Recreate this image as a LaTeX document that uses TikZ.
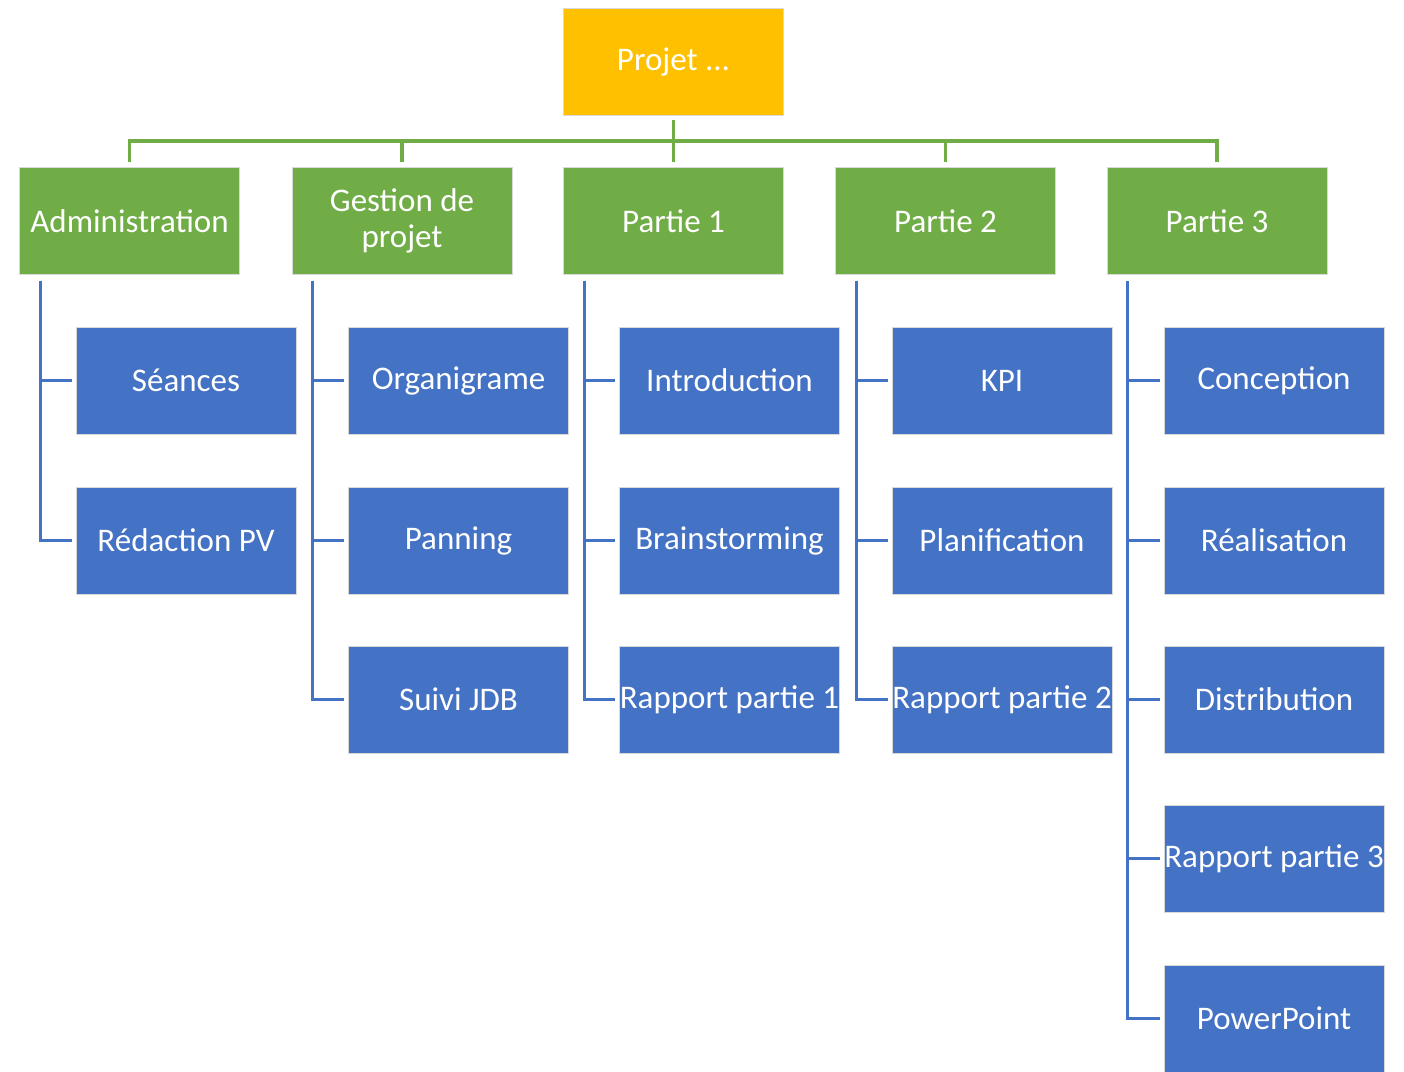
\documentclass[tikz,border=0pt]{standalone}
\usepackage{fontspec}
\setmainfont{Carlito}
\definecolor{cyel}{HTML}{FFC000}
\definecolor{cgrn}{HTML}{70AD47}
\definecolor{cblu}{HTML}{4472C4}
\begin{document}
\begin{tikzpicture}[x=1pt,y=-1pt,
  box/.style={minimum width=220pt,minimum height=107pt,inner sep=0pt,text=white,
    font=\fontsize{33}{36}\selectfont,align=center,draw=white!85!black,line width=0.6pt},
  topbox/.style={box,fill=cyel},
  gbox/.style={box,fill=cgrn},
  bbox/.style={box,fill=cblu},
  gline/.style={draw=cgrn,line width=3.2pt},
  bline/.style={draw=cblu,line width=3pt}]
\useasboundingbox (0,0) rectangle (1404,1071);
\node[topbox] (top) at (673.5,61.5) {Projet ...};
\node[gbox] (g1) at (129.5,221) {Administration};
\node[gbox] (g2) at (402,221) {Gestion de\\projet};
\node[gbox] (g3) at (673.5,221) {Partie 1};
\node[gbox] (g4) at (945.5,221) {Partie 2};
\node[gbox] (g5) at (1217,221) {Partie 3};
\coordinate (bus) at (0,141);
% green connectors
\draw[gline] ([yshift=-5pt]top.south) -- ([yshift=5pt]g3.north);
\draw[gline] ([yshift=5pt]g1.north) -- (g1.north |- bus) -- (g5.north |- bus) -- ([yshift=5pt]g5.north);
\draw[gline] (g2.north |- bus) -- ([yshift=5pt]g2.north);
\draw[gline] (g4.north |- bus) -- ([yshift=5pt]g4.north);
% blue nodes
\node[bbox] (a1) at (186,380.5) {Séances};
\node[bbox] (a2) at (186,540.5) {Rédaction PV};
\node[bbox] (b1) at (458.5,380.5) {Organigrame};
\node[bbox] (b2) at (458.5,540.5) {Panning};
\node[bbox] (b3) at (458.5,699.5) {Suivi JDB};
\node[bbox] (c1) at (729.5,380.5) {Introduction};
\node[bbox] (c2) at (729.5,540.5) {Brainstorming};
\node[bbox] (c3) at (729.5,699.5) {Rapport partie 1};
\node[bbox] (d1) at (1002,380.5) {KPI};
\node[bbox] (d2) at (1002,540.5) {Planification};
\node[bbox] (d3) at (1002,699.5) {Rapport partie 2};
\node[bbox] (e1) at (1274,380.5) {Conception};
\node[bbox] (e2) at (1274,540.5) {Réalisation};
\node[bbox] (e3) at (1274,699.5) {Distribution};
\node[bbox] (e4) at (1274,858.5) {Rapport partie 3};
\node[bbox] (e5) at (1274,1018.5) {PowerPoint};
% blue connectors
\coordinate (va) at ([xshift=21pt,yshift=-6pt]g1.south west);
\coordinate (vb) at ([xshift=21pt,yshift=-6pt]g2.south west);
\coordinate (vc) at ([xshift=21pt,yshift=-6pt]g3.south west);
\coordinate (vd) at ([xshift=21pt,yshift=-6pt]g4.south west);
\coordinate (ve) at ([xshift=21pt,yshift=-6pt]g5.south west);
\draw[bline] (va) |- ([xshift=-4pt]a2.west);
\draw[bline] (va |- a1.west) -- ([xshift=-4pt]a1.west);
\draw[bline] (vb) |- ([xshift=-4pt]b3.west);
\draw[bline] (vb |- b1.west) -- ([xshift=-4pt]b1.west);
\draw[bline] (vb |- b2.west) -- ([xshift=-4pt]b2.west);
\draw[bline] (vc) |- ([xshift=-4pt]c3.west);
\draw[bline] (vc |- c1.west) -- ([xshift=-4pt]c1.west);
\draw[bline] (vc |- c2.west) -- ([xshift=-4pt]c2.west);
\draw[bline] (vd) |- ([xshift=-4pt]d3.west);
\draw[bline] (vd |- d1.west) -- ([xshift=-4pt]d1.west);
\draw[bline] (vd |- d2.west) -- ([xshift=-4pt]d2.west);
\draw[bline] (ve) |- ([xshift=-4pt]e5.west);
\draw[bline] (ve |- e1.west) -- ([xshift=-4pt]e1.west);
\draw[bline] (ve |- e2.west) -- ([xshift=-4pt]e2.west);
\draw[bline] (ve |- e3.west) -- ([xshift=-4pt]e3.west);
\draw[bline] (ve |- e4.west) -- ([xshift=-4pt]e4.west);
\end{tikzpicture}
\end{document}
